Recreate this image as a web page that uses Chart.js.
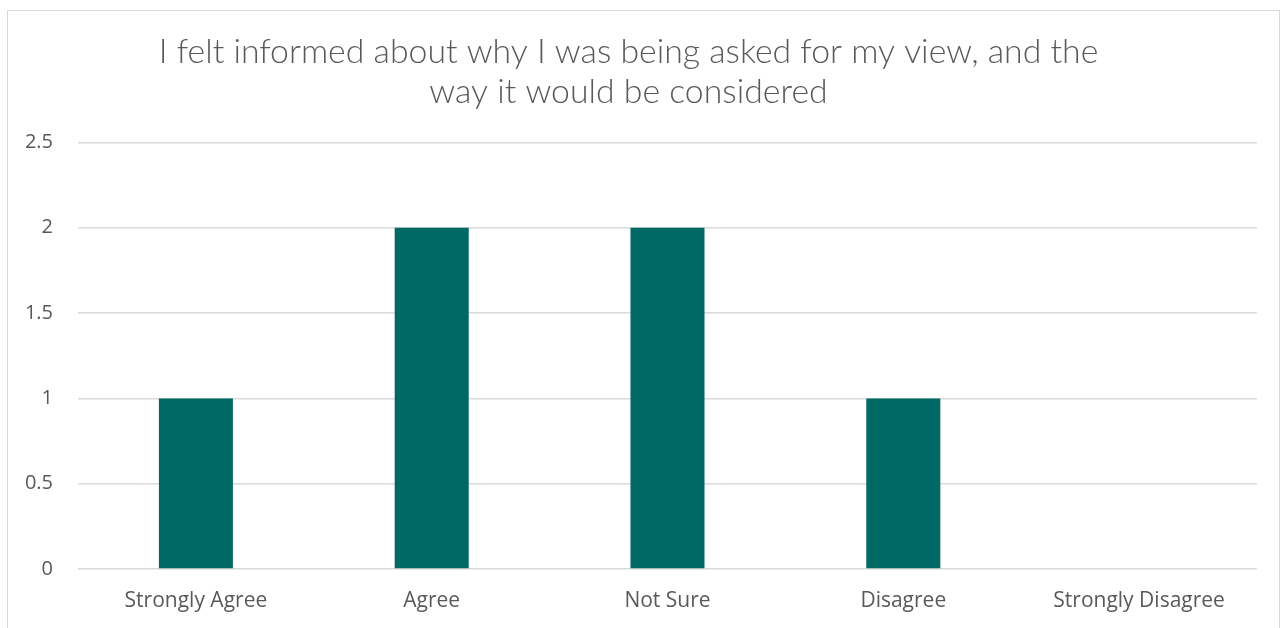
<!DOCTYPE html>
<html>
<head>
<meta charset="utf-8">
<script src="https://cdn.jsdelivr.net/npm/chart.js@4/dist/chart.umd.min.js"></script>
<style>
  html, body { margin: 0; padding: 0; background: #fff; overflow: hidden; }
  #wrap { position: relative; width: 1286px; height: 628px; }
  #frame { position: absolute; left: 7px; top: 10px; width: 1273px; height: 640px; border: 1px solid #d9d9d9; box-sizing: border-box; }
  canvas { position: absolute; left: 0; top: 0; }
</style>
</head>
<body>
<div id="wrap">
  <div id="frame"></div>
  <canvas id="chart" width="1286" height="628"></canvas>
</div>
<script>
const categories = ['Strongly Agree', 'Agree', 'Not Sure', 'Disagree', 'Strongly Disagree'];
const responses = [1, 2, 2, 1, 0];
const titleLines = ['I felt informed about why I was being asked for my view, and the', 'way it would be considered'];

const ctx = document.getElementById('chart').getContext('2d');
new Chart(ctx, {
    type: 'bar',
    data: {
        labels: categories,
        datasets: [{
            data: responses,
            backgroundColor: '#006966',
            categoryPercentage: 1,
            barPercentage: 0.314
        }]
    },
    options: {
        responsive: false,
        animation: false,
        layout: { padding: { left: 0, right: 29, top: 0, bottom: 0 } },
        plugins: {
            legend: { display: false },
            tooltip: { enabled: false },
            title: {
                display: true,
                text: titleLines,
                color: '#595959',
                font: { family: 'Lato', size: 33.8, weight: 300, lineHeight: 1.19 },
                padding: { top: 32, bottom: 30 }
            }
        },
        scales: {
            x: {
                grid: { display: false },
                border: { display: false },
                ticks: { color: '#595959', font: { family: 'Open Sans', size: 21 }, padding: 11, maxRotation: 0 },
                afterFit: (axis) => { axis.height = 59; }
            },
            y: {
                min: 0,
                max: 2.5,
                ticks: {
                    stepSize: 0.5,
                    color: '#595959',
                    font: { family: 'Open Sans', size: 20 },
                    padding: 25,
                    callback: (v) => String(v)
                },
                grid: { color: '#d9d9d9', lineWidth: 1.5, drawTicks: false },
                border: { display: false },
                afterFit: (axis) => { axis.width = 78; }
            }
        }
    }
});
</script>
</body>
</html>
